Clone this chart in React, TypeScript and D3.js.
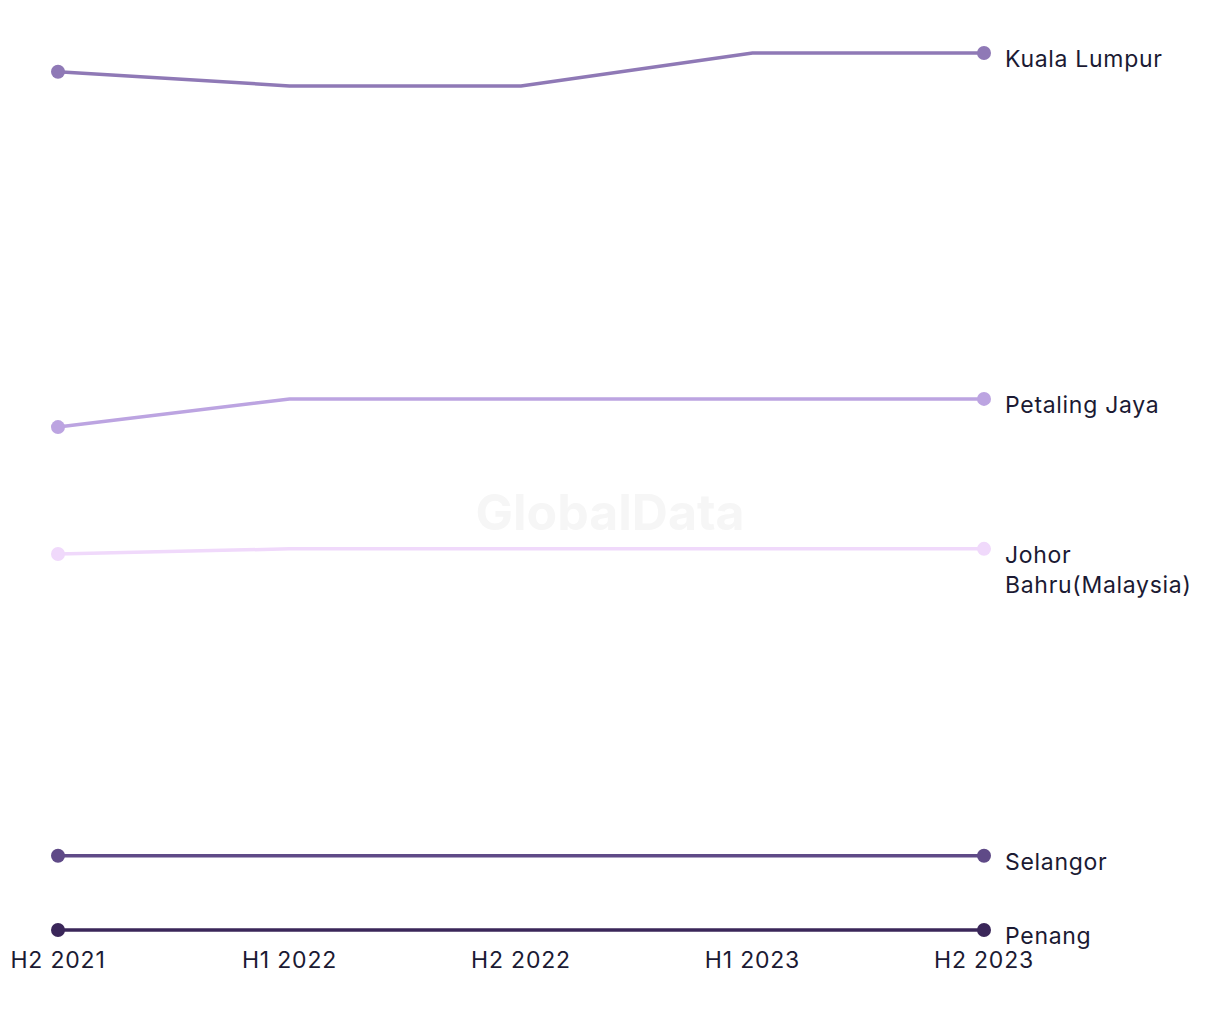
import React from "react";
import * as d3 from "d3";

const categories = ["H2 2021", "H1 2022", "H2 2022", "H1 2023", "H2 2023"];
const seriesNames = ["Kuala Lumpur", "Petaling Jaya", "Johor Bahru(Malaysia)", "Selangor", "Penang"];
const labelLines = [["Kuala Lumpur"], ["Petaling Jaya"], ["Johor", "Bahru(Malaysia)"], ["Selangor"], ["Penang"]];
const kualaLumpur = [202.6, 199.6, 199.6, 206.6, 206.6];
const petalingJaya = [127, 133, 133, 133, 133];
const johorBahru = [100, 101.1, 101.1, 101.1, 101.1];
const selangor = [35.8, 35.8, 35.8, 35.8, 35.8];
const penang = [20, 20, 20, 20, 20];
const colors = ["#8f79b6", "#bca4e1", "#f0d9fb", "#5f4a87", "#3a2659"];

const allSeries = [kualaLumpur, petalingJaya, johorBahru, selangor, penang];

export default function App() {
  const W = 1220;
  const H = 1020;
  const x = d3.scalePoint<string>().domain(categories).range([58, 984]);
  const allVals = allSeries.flat();
  const y = d3
    .scaleLinear()
    .domain([d3.min(allVals) as number, d3.max(allVals) as number])
    .range([930, 53]);
  const line = d3
    .line<number>()
    .x((_, i) => x(categories[i]) as number)
    .y((d) => y(d));
  const font = "Inter, 'Open Sans', sans-serif";
  const textColor = "#1b1a33";
  return (
    <svg
      width={W}
      height={H}
      style={{ position: "absolute", left: 0, top: 0, background: "#fff" }}
    >
      <text
        x={610}
        y={530}
        textAnchor="middle"
        fontFamily={font}
        fontWeight={700}
        fontSize={50}
        fill="#f6f6f6"
      >
        GlobalData
      </text>
      {allSeries.map((s, si) => (
        <g key={seriesNames[si]}>
          <path d={line(s) || ""} fill="none" stroke={colors[si]} strokeWidth={3.5} />
          <circle cx={x(categories[0])} cy={y(s[0])} r={7} fill={colors[si]} />
          <circle
            cx={x(categories[categories.length - 1])}
            cy={y(s[s.length - 1])}
            r={7}
            fill={colors[si]}
          />
          {labelLines[si].map((ln, li) => (
            <text
              key={li}
              x={(x(categories[categories.length - 1]) as number) + 21}
              y={y(s[s.length - 1]) + 8 + li * 30}
              dominantBaseline="middle"
              fontFamily={font}
              fontSize={23}
              letterSpacing={0.7}
              fill={textColor}
            >
              {ln}
            </text>
          ))}
        </g>
      ))}
      {categories.map((c) => (
        <text
          key={c}
          x={x(c)}
          y={962}
          textAnchor="middle"
          dominantBaseline="middle"
          fontFamily={font}
          fontSize={23}
          letterSpacing={0.8}
          fill={textColor}
        >
          {c}
        </text>
      ))}
    </svg>
  );
}
